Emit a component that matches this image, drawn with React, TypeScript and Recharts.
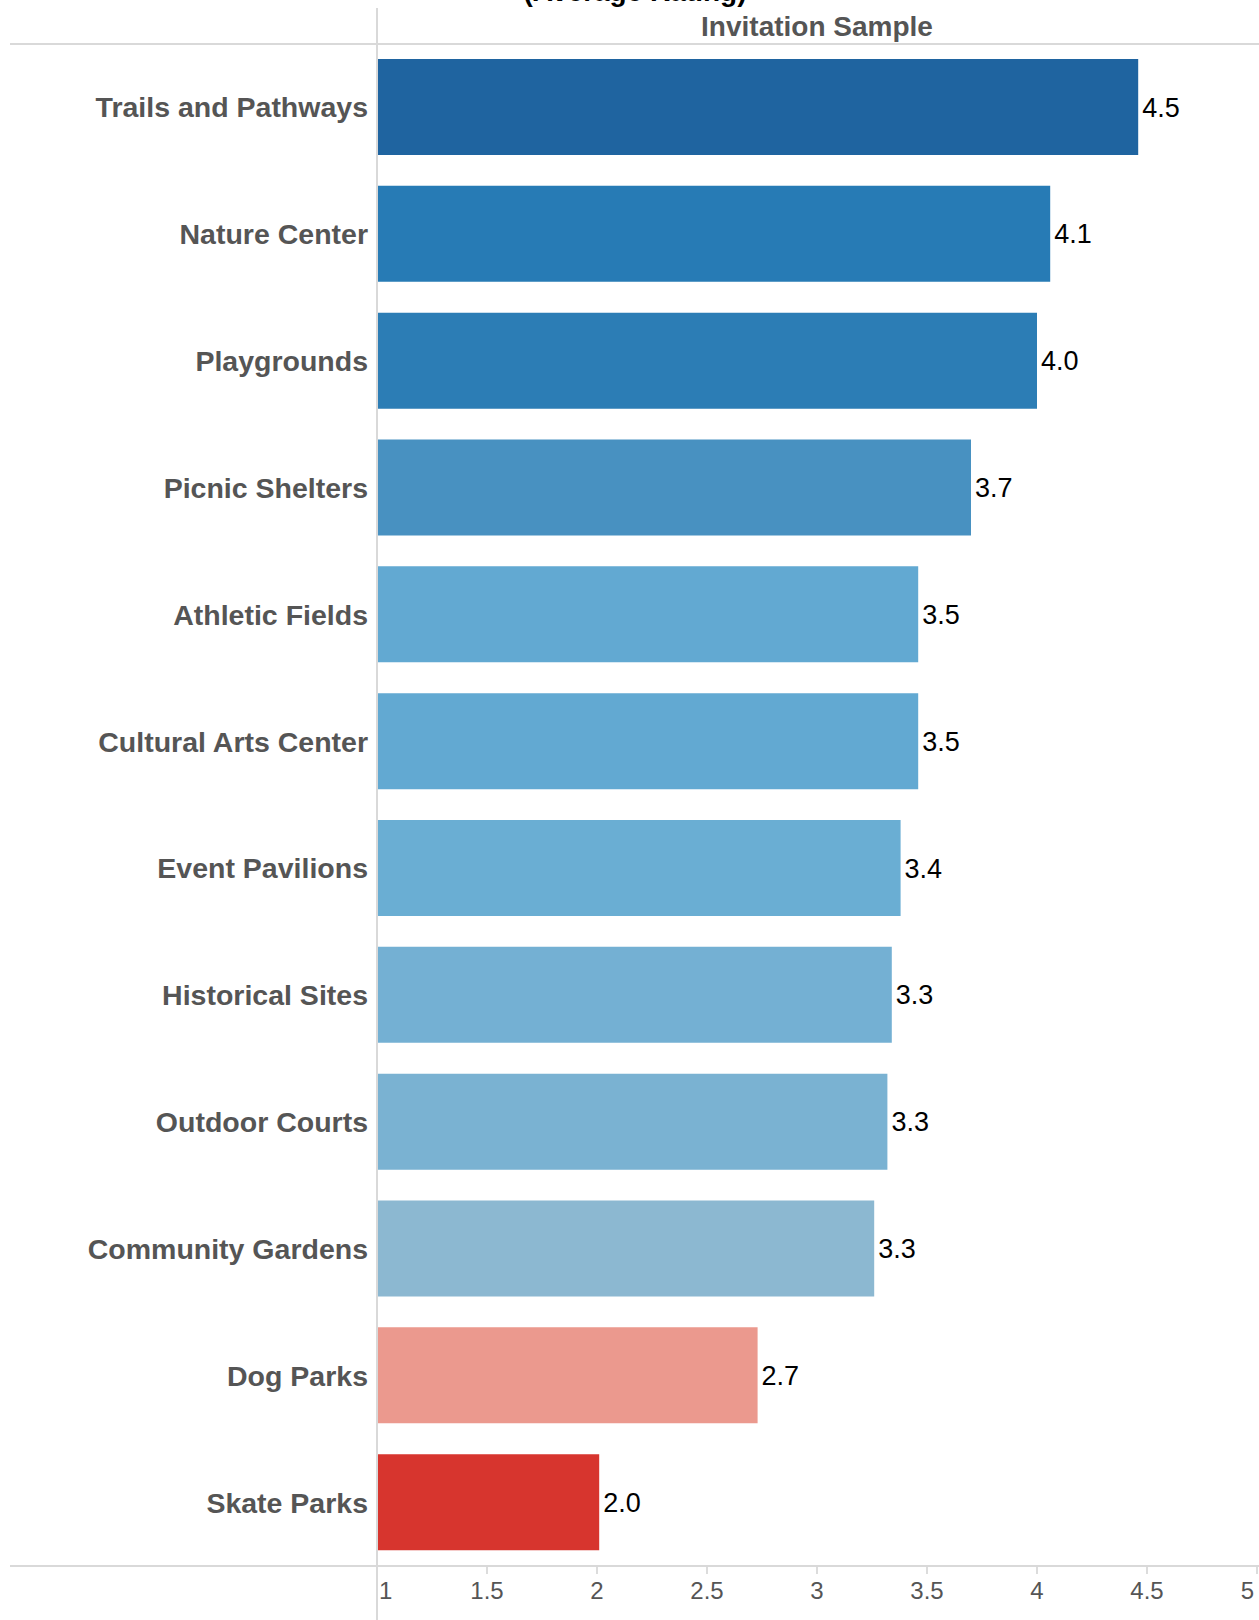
import { BarChart, Bar, XAxis, YAxis, Cell, LabelList } from 'recharts';

const categories = [
  'Trails and Pathways',
  'Nature Center',
  'Playgrounds',
  'Picnic Shelters',
  'Athletic Fields',
  'Cultural Arts Center',
  'Event Pavilions',
  'Historical Sites',
  'Outdoor Courts',
  'Community Gardens',
  'Dog Parks',
  'Skate Parks',
];

const ratings = [4.46, 4.06, 4.0, 3.7, 3.46, 3.46, 3.38, 3.34, 3.32, 3.26, 2.73, 2.01];

const barColors = [
  '#1f64a0',
  '#277bb5',
  '#2c7db5',
  '#4891c1',
  '#62a9d2',
  '#62a9d2',
  '#6aaed3',
  '#74b0d3',
  '#7ab2d2',
  '#8cb8d1',
  '#eb998e',
  '#d7352e',
];

const xTicks = [1, 1.5, 2, 2.5, 3, 3.5, 4, 4.5, 5];

const data = categories.map((name, i) => ({ name, rating: ratings[i], color: barColors[i] }));

const FONT = '"Liberation Sans", Arial, sans-serif';
const W = 1259;
const H = 1620;

function XTick({ x, y, payload }: any) {
  const v = payload.value as number;
  const anchor = v === xTicks[0] ? 'start' : v === xTicks[xTicks.length - 1] ? 'end' : 'middle';
  const dx = anchor === 'start' ? 2 : anchor === 'end' ? -3 : 0;
  return (
    <text x={x + dx} y={y} dy="0.71em" textAnchor={anchor} fontSize={24} fill="#555" fontFamily={FONT}>
      {String(v)}
    </text>
  );
}

function YTick({ x, y, payload }: any) {
  return (
    <text
      x={x}
      y={y}
      dy="0.35em"
      textAnchor="end"
      fontSize={28.5}
      fontWeight="bold"
      fill="#555"
      fontFamily={FONT}
    >
      {payload.value}
    </text>
  );
}

const line = (style: React.CSSProperties) => (
  <div style={{ position: 'absolute', background: '#d9d9d9', pointerEvents: 'none', ...style }} />
);

export default function App() {
  return (
    <div style={{ position: 'relative', width: W, height: H, overflow: 'hidden', background: '#fff' }}>
      <style>{'body{margin:0}'}</style>
      <BarChart
        layout="vertical"
        width={W}
        height={H}
        data={data}
        margin={{ top: 44, right: 2, bottom: 0, left: 0 }}
      >
        <XAxis
          type="number"
          domain={[1, 5]}
          ticks={xTicks}
          allowDataOverflow
          height={54}
          axisLine={false}
          tickLine={{ stroke: '#d0d0d0', strokeWidth: 1.5 }}
          tickSize={8}
          tickMargin={8}
          tick={<XTick />}
          interval={0}
        />
        <YAxis
          type="category"
          dataKey="name"
          width={377}
          axisLine={false}
          tickLine={false}
          tickSize={0}
          tickMargin={9}
          tick={<YTick />}
          interval={0}
        />
        <Bar dataKey="rating" barSize={96} isAnimationActive={false}>
          {data.map((d) => (
            <Cell key={d.name} fill={d.color} />
          ))}
          <LabelList
            dataKey="rating"
            position="right"
            offset={4}
            formatter={(v: any) => Number(v).toFixed(1)}
            style={{ fontSize: 27, fill: '#000', fontFamily: FONT }}
          />
        </Bar>
      </BarChart>

      {/* frame lines */}
      {line({ left: 10, top: 43, width: W - 10, height: 2 })}
      {line({ left: 10, top: 1565, width: W - 10, height: 2 })}
      {line({ left: 376, top: 8, width: 2, height: H - 8 })}

      <div
        style={{
          position: 'absolute',
          left: 335,
          width: 600,
          top: -24,
          textAlign: 'center',
          fontFamily: FONT,
          fontWeight: 'bold',
          fontSize: 28,
          color: '#000',
          lineHeight: '32px',
        }}
      >
        (Average Rating)
      </div>
      <div
        style={{
          position: 'absolute',
          left: 377,
          width: 880,
          top: 11,
          textAlign: 'center',
          fontFamily: FONT,
          fontWeight: 'bold',
          fontSize: 28,
          color: '#555',
          lineHeight: '32px',
        }}
      >
        Invitation Sample
      </div>
    </div>
  );
}
